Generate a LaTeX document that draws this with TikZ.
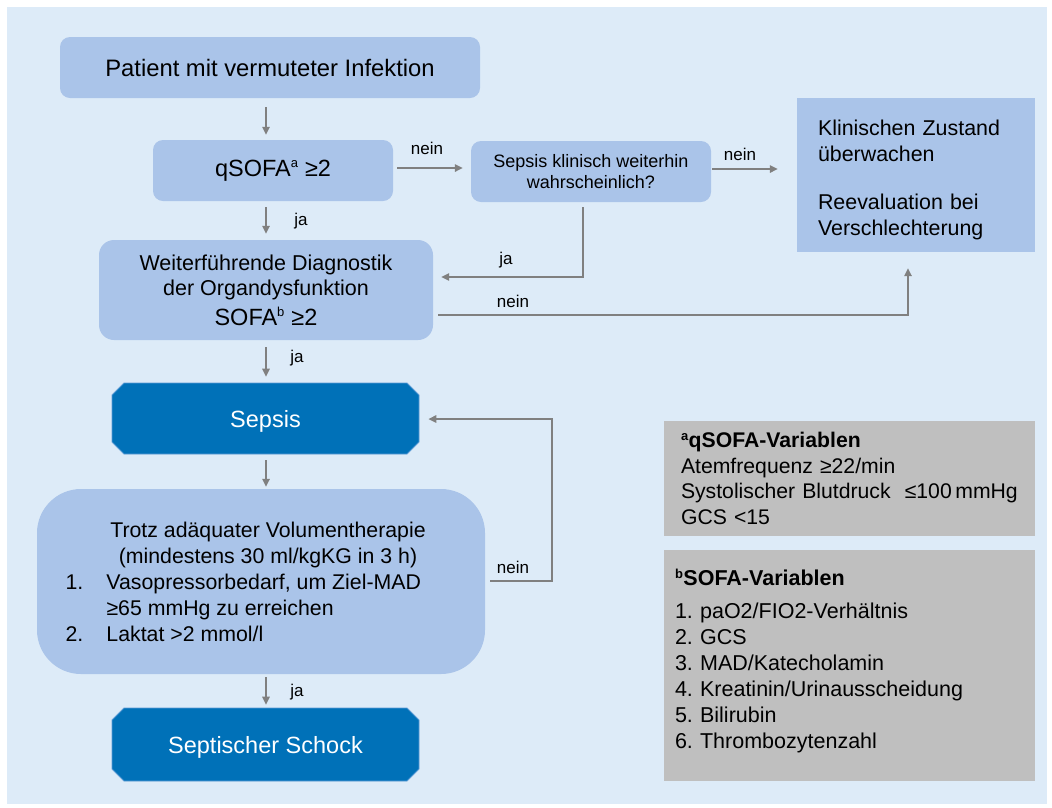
\documentclass[tikz,border=0pt]{standalone}
\usepackage{fontspec}
\setmainfont{Liberation Sans}
\usetikzlibrary{arrows.meta,shapes.misc,calc}
\definecolor{bgblue}{RGB}{221,235,248}
\definecolor{boxblue}{RGB}{170,196,233}
\definecolor{darkblue}{RGB}{0,113,184}
\definecolor{darkedge}{RGB}{91,155,213}
\definecolor{greybox}{RGB}{191,191,191}
\definecolor{arrowgrey}{RGB}{128,128,128}
\frenchspacing
\begin{document}
\begin{tikzpicture}[x=1pt,y=-1pt,
  lbox/.style={fill=boxblue, draw=none, inner sep=0pt, align=center},
  dbox/.style={chamfered rectangle, chamfered rectangle xsep=6pt, chamfered rectangle ysep=6pt,
    fill=darkblue, draw=darkedge, line width=0.8pt, text=white, inner sep=0pt,
    text height=17pt, text depth=0pt,
    minimum width=307pt, font=\fontsize{23.5}{28}\selectfont},
  gbox/.style={fill=greybox, draw=none, align=left, inner ysep=0pt},
  conn/.style={draw=arrowgrey, line width=1.5pt, -{Triangle[length=8pt,width=7.5pt]}},
  lab/.style={font=\fontsize{17}{20}\selectfont, inner sep=0pt, anchor=base},
]
\useasboundingbox (0,0) rectangle (1052,807);
\fill[white] (0,0) rectangle (1052,807);
\fill[bgblue] (7,7) rectangle (1047,804);

\coordinate (col) at (266,0);

% main column
\node[lbox, rounded corners=10pt, minimum width=420pt, minimum height=61pt,
  font=\fontsize{23.8}{28}\selectfont] (pat) at (270,67.5) {Patient mit vermuteter Infektion};
\node[lbox, rounded corners=10pt, minimum width=240pt, minimum height=61pt,
  font=\fontsize{23.5}{28}\selectfont] (qs) at (273,170.5) {qSOFA\textsuperscript{\fontsize{13}{13}\selectfont a} ≥2};
\node[lbox, rounded corners=10pt, minimum width=240pt, minimum height=61pt,
  font=\fontsize{18}{21.5}\selectfont] (sk) at (591,171.5) {Sepsis klinisch weiterhin\\wahrscheinlich?};
\node[fill=boxblue, minimum width=238pt, minimum height=154pt, text width=196pt,
  inner xsep=21pt, inner ysep=0pt, align=left,
  font=\fontsize{21.4}{26}\selectfont] (kl) at (916,175)
  {\rule{0pt}{26pt}Klinischen Zustand\\überwachen\\[22pt]Reevaluation bei\\Verschlechterung};
\node[lbox, rounded corners=15pt, minimum width=334pt, minimum height=100pt,
  font=\fontsize{21.5}{25}\selectfont] (wd) at (266,290)
  {Weiterführende Diagnostik\\der Organdysfunktion\\[5pt]{\fontsize{23.5}{28}\selectfont SOFA\textsuperscript{\fontsize{13}{13}\selectfont b} ≥2}};
\node[dbox, minimum height=71pt] (sep) at (265.5,418.5) {Sepsis};
\node[lbox, rounded corners=44pt, minimum width=448pt, minimum height=185pt,
  font=\fontsize{21.3}{26}\selectfont] (tr) at (261,581.5)
  {\hspace*{14pt}\parbox{405pt}{\centering Trotz adäquater Volumentherapie\\(mindestens 30 ml/kgKG in 3 h)\par
   \raggedright\makebox[41pt][l]{1.}Vasopressorbedarf, um Ziel-MAD\\
   \hspace*{41pt}≥65 mmHg zu erreichen\\
   \makebox[41pt][l]{2.}Laktat >2 mmol/l}};
\node[dbox, minimum height=73pt] (ss) at (265.5,744.5) {Septischer Schock};

% grey legend boxes
\node[gbox, minimum width=371pt, minimum height=115pt, text width=337pt, inner xsep=17pt,
  font=\fontsize{21.2}{25.7}\selectfont] (qv) at (849.5,478.5)
  {\textbf{\textsuperscript{\fontsize{13}{13}\selectfont a}qSOFA-Variablen}\\Atemfrequenz ≥22/min\\Systolischer Blutdruck\ \ ≤100\,mmHg\\GCS <15};
\node[gbox, minimum width=371pt, minimum height=231pt, text width=349pt, inner xsep=11pt,
  font=\fontsize{21.5}{26}\selectfont] (sv) at (849.5,665.5)
  {\textbf{\textsuperscript{\fontsize{13}{13}\selectfont b}SOFA-Variablen}\\[7pt]1. paO2/FIO2-Verhältnis\\2. GCS\\3. MAD/Katecholamin\\4. Kreatinin/Urinausscheidung\\5. Bilirubin\\6. Thrombozytenzahl\\[-13pt]\mbox{}};

% connectors
\draw[conn, shorten <=9pt, shorten >=5pt] (pat.south -| col) -- (qs.north -| col);
\draw[conn, shorten <=6pt, shorten >=6pt] (qs.south -| col) -- (wd.north -| col);
\draw[conn, shorten <=7pt, shorten >=6pt] (wd.south -| col) -- (sep.north -| col);
\draw[conn, shorten <=6pt, shorten >=2pt] (sep.south -| col) -- (tr.north -| col);
\draw[conn, shorten <=3pt, shorten >=3pt] (tr.south -| col) -- (ss.north -| col);

\coordinate (r1) at (0,168);
\coordinate (r2) at (0,169);
\draw[conn, shorten <=4pt, shorten >=8pt] (qs.east |- r1) -- (sk.west |- r1);
\draw[conn, shorten <=1pt, shorten >=19pt] (sk.east |- r2) -- (kl.west |- r2);

\coordinate (j1) at (583,277);
\draw[conn, shorten <=5pt, shorten >=8pt] (sk.south -| j1) |- (wd.east |- j1);

\coordinate (n1) at (908,315);
\draw[conn, shorten <=5pt, shorten >=16pt] (wd.east |- n1) -| (kl.south -| n1);

\coordinate (n2) at (552,581);
\coordinate (n3) at (552,419);
\draw[conn, shorten <=5pt, shorten >=9pt] (tr.east |- n2) -- (n2) -- (n3) -- (sep.east |- n3);

% labels
\node[lab] (la1) at (301,225) {ja};
\node[lab] (la2) at (297,362) {ja};
\node[lab] (la3) at (297,696) {ja};
\node[lab] (ln1) at (427,154) {nein};
\node[lab] (ln2) at (740,160) {nein};
\node[lab] (la4) at (506,264) {ja};
\node[lab] (ln3) at (513,307) {nein};
\node[lab] (ln4) at (513,573) {nein};
\end{tikzpicture}
\end{document}
